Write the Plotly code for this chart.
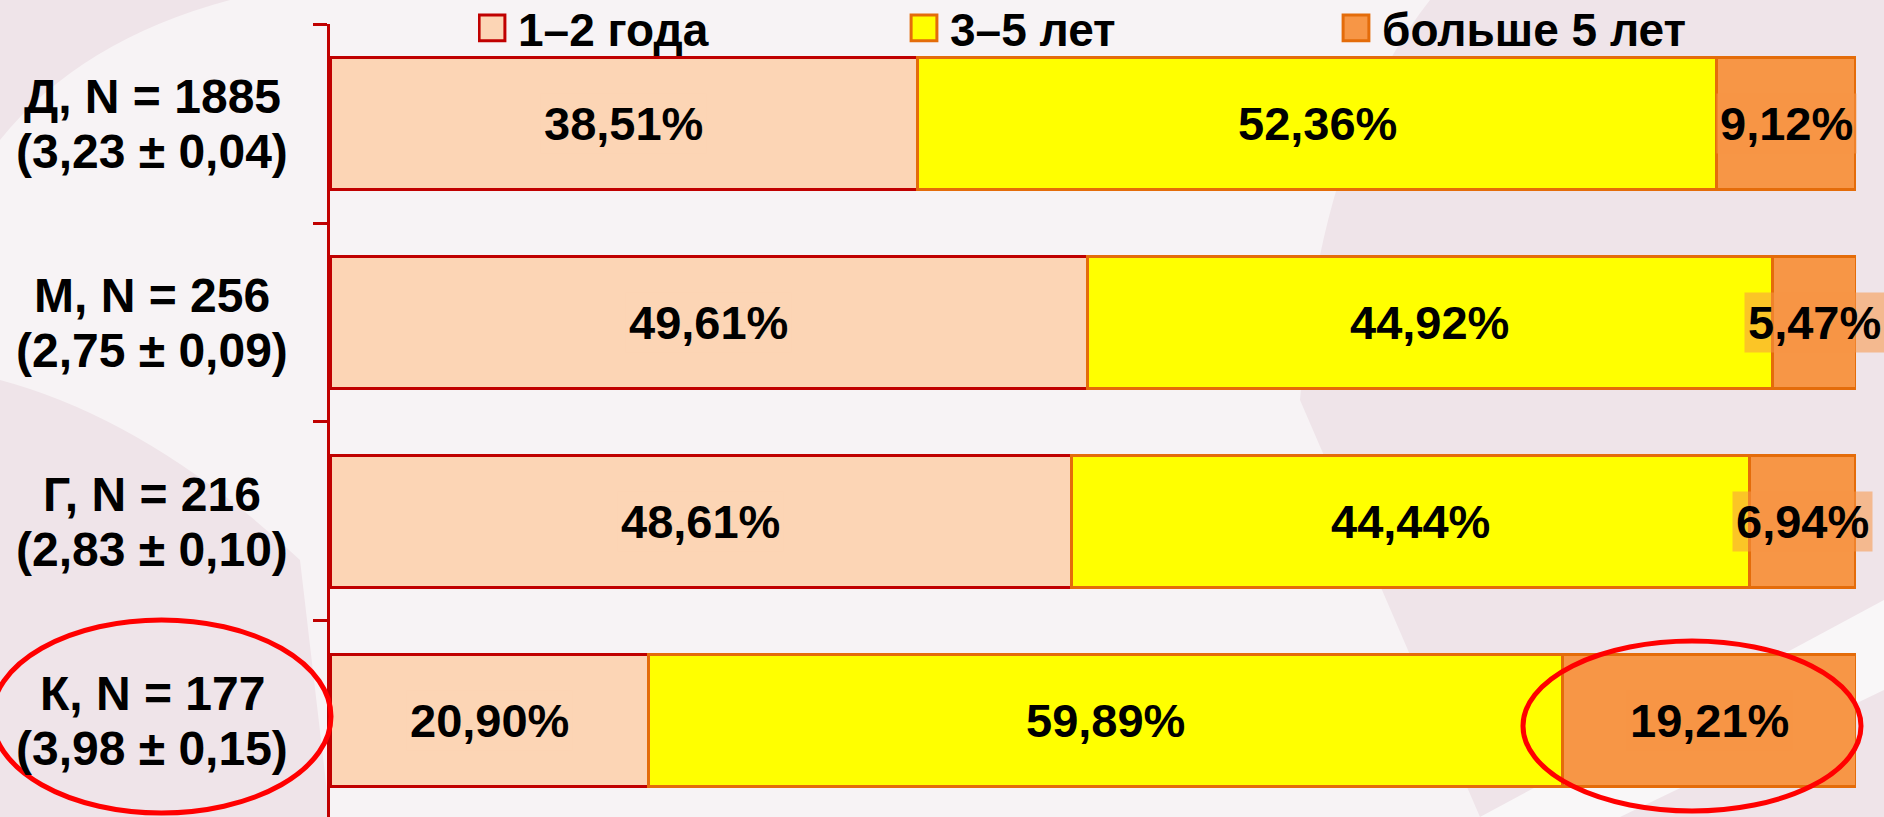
import plotly.graph_objects as go

# ---- data ----
groups = ["Д", "М", "Г", "К"]
n_values = [1885, 256, 216, 177]
mean_values = ["3,23", "2,75", "2,83", "3,98"]
err_values = ["0,04", "0,09", "0,10", "0,15"]

series_names = ["1–2 года", "3–5 лет", "больше 5 лет"]
vals_1_2 = [38.51, 49.61, 48.61, 20.90]
vals_3_5 = [52.36, 44.92, 44.44, 59.89]
vals_5plus = [9.12, 5.47, 6.94, 19.21]

# ---- style ----
W, H = 1884, 817
ML, MR, MT, MB = 330, 28, 24, 0
PW, PH = W - ML - MR, H - MT - MB
FONT = "Liberation Sans, Arial, sans-serif"
fills = ["#fcd5b5", "#ffff00", "#f79646"]
lines = ["#c00000", "#e46c0a", "#e46c0a"]
label_bg = ["rgba(252,213,181,0.55)", "rgba(255,255,0,0.55)", "rgba(247,150,70,0.55)"]


def px(x):
    return (x - ML) / PW


def py(y):
    return (H - MB - y) / PH


series = [vals_1_2, vals_3_5, vals_5plus]

fig = go.Figure()
for name, vals, fc, lc in zip(series_names, series, fills, lines):
    fig.add_trace(go.Bar(
        name=name, y=groups, x=vals, orientation="h", width=0.665,
        marker=dict(color=fc, line=dict(color=lc, width=3)),
        hoverinfo="x+name",
    ))

annotations = []
# percentage labels
for i, g in enumerate(groups):
    start = 0
    for s, vals in enumerate(series):
        v = vals[i]
        annotations.append(dict(
            x=start + v / 2, y=g, xref="x", yref="y",
            text=f"{v:.2f}".replace(".", ",") + "%",
            showarrow=False, xanchor="center", yanchor="middle",
            font=dict(family=FONT, size=47, color="black", weight="bold"),
            bgcolor=label_bg[s], borderpad=3,
        ))
        start += v

# category labels (two lines)
for g, n, m, e in zip(groups, n_values, mean_values, err_values):
    annotations.append(dict(
        x=px(152), y=g, xref="paper", yref="y", yshift=27,
        text=f"{g}, N = {n}", showarrow=False, xanchor="center", yanchor="middle",
        font=dict(family=FONT, size=48, color="black", weight="bold"),
    ))
    annotations.append(dict(
        x=px(152), y=g, xref="paper", yref="y", yshift=-28,
        text=f"({m} ± {e})", showarrow=False, xanchor="center", yanchor="middle",
        font=dict(family=FONT, size=48, color="black", weight="bold"),
    ))

shapes = [
    # background tint regions
    dict(type="path", xref="paper", yref="paper", layer="below",
         path=(f"M {px(0)},{py(0)} L {px(0)},{py(817)} L {px(1884)},{py(817)} L {px(1884)},{py(0)} Z"),
         fillcolor="#efe4e9", line=dict(width=0)),
    dict(type="path", xref="paper", yref="paper", layer="below",
         path=(f"M {px(0)},{py(140)} Q {px(80)},{py(40)} {px(230)},{py(0)} "
               f"L {px(1430)},{py(0)} Q {px(1320)},{py(140)} {px(1300)},{py(400)} "
               f"L {px(1480)},{py(817)} L {px(330)},{py(817)} L {px(300)},{py(560)} "
               f"Q {px(150)},{py(420)} {px(0)},{py(380)} Z"),
         fillcolor="#f7f3f5", line=dict(width=0)),
    dict(type="path", xref="paper", yref="paper", layer="below",
         path=(f"M {px(1480)},{py(817)} L {px(1884)},{py(600)} L {px(1884)},{py(690)} "
               f"L {px(1620)},{py(817)} Z"),
         fillcolor="#f9f7f8", line=dict(width=0)),
    # highlight ellipses
    dict(type="circle", xref="paper", yref="paper",
         x0=px(-8), x1=px(331), y0=py(813), y1=py(620),
         line=dict(color="#ff0000", width=5)),
    dict(type="circle", xref="paper", yref="paper",
         x0=px(1523), x1=px(1861), y0=py(811), y1=py(641),
         line=dict(color="#ff0000", width=5)),
]

fig.update_layout(
    width=W, height=H,
    margin=dict(l=ML, r=MR, t=MT, b=MB, pad=0, autoexpand=False),
    barmode="stack",
    paper_bgcolor="#f3ecef",
    plot_bgcolor="rgba(0,0,0,0)",
    font=dict(family=FONT, color="black"),
    showlegend=True,
    legend=dict(
        orientation="h", x=px(478), xanchor="left", y=py(28), yanchor="middle",
        font=dict(family=FONT, size=46, color="black", weight="bold"),
        bgcolor="rgba(0,0,0,0)", entrywidth=387, entrywidthmode="pixels",
        traceorder="normal", itemclick=False, itemdoubleclick=False,
    ),
    xaxis=dict(range=[0, 100], visible=False, fixedrange=True),
    yaxis=dict(
        type="category", categoryorder="array", categoryarray=list(reversed(groups)),
        range=[-0.485, 3.5], showticklabels=False, tickson="boundaries",
        ticks="outside", ticklen=14, tickwidth=3, tickcolor="#c00000",
        showline=True, linecolor="#c00000", linewidth=3, showgrid=False,
        zeroline=False, fixedrange=True,
    ),
    annotations=annotations,
    shapes=shapes,
)

post_js = """
document.body.style.margin = '0';
document.body.style.background = '#f3ecef';
var gd = document.getElementById('{plot_id}');
function enlargeLegendSymbols() {
  gd.querySelectorAll('.legendpoints path').forEach(function (p) {
    if (p.dataset.origTransform === undefined) {
      p.dataset.origTransform = p.getAttribute('transform') || '';
    }
    p.setAttribute('transform', p.dataset.origTransform + ' translate(-6,0) scale(2.15)');
    p.style.strokeWidth = '1.4px';
  });
}
enlargeLegendSymbols();
gd.on('plotly_afterplot', enlargeLegendSymbols);
"""

fig.write_html("out.html", post_script=post_js, config={"displayModeBar": False})
